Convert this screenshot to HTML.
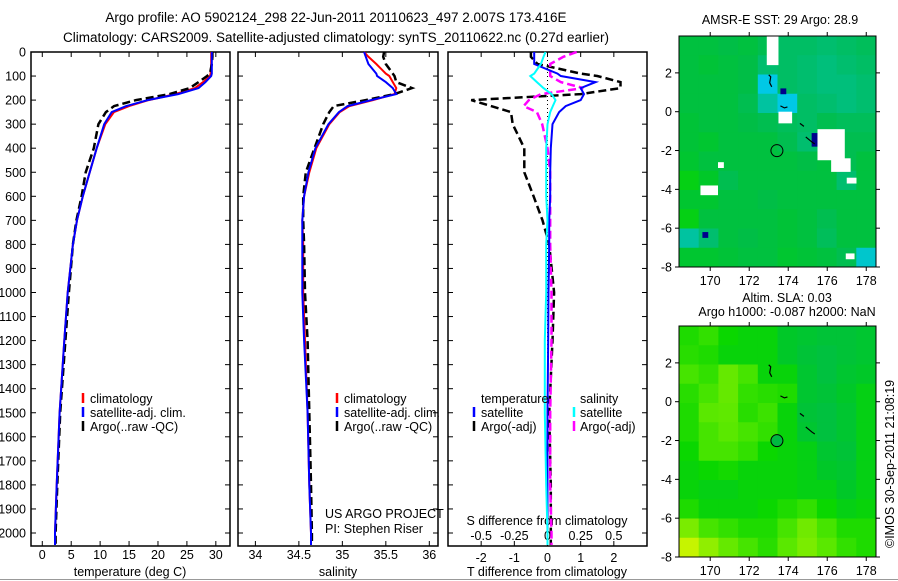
<!DOCTYPE html>
<html><head><meta charset="utf-8"><style>
body{margin:0;background:#fff;}
svg{display:block;font-family:"Liberation Sans",sans-serif;font-size:12.5px;}
</style></head><body>
<svg id="fig" width="898" height="581" viewBox="0 0 898 581" xmlns="http://www.w3.org/2000/svg">
<rect width="898" height="581" fill="#fff"/>
<text x="336" y="22" text-anchor="middle" font-size="13.5">Argo profile: AO 5902124_298 22-Jun-2011 20110623_497 2.007S 173.416E</text>
<text x="336" y="42" text-anchor="middle" font-size="13.5">Climatology: CARS2009. Satellite-adjusted climatology: synTS_20110622.nc (0.27d earlier)</text>
<g id="g"></g>
<line x1="0" y1="579.5" x2="898" y2="579.5" stroke="#999" stroke-width="1"/>
</svg>
<script>
// ---------- data ----------
const depthTicks=[0,100,200,300,400,500,600,700,800,900,1000,1100,1200,1300,1400,1500,1600,1700,1800,1900,2000];
const tempTicks=[0,5,10,15,20,25,30];
const salTicks=[34,34.5,35,35.5,36];
const tdiffTicks=[-2,-1,0,1,2];
const sdiffTicks=[-0.5,-0.25,0,0.25,0.5];
const depths=[0,20,50,90,100,125,150,175,200,225,250,300,400,500,600,700,800,1000,1200,1500,1800,2000,2050];
const tempClim=[29.2,29.2,29.2,29.1,29.0,27.8,26.4,23.0,18.4,15.0,12.4,10.9,9.4,8.2,7.0,6.0,5.3,4.4,3.8,3.0,2.5,2.2,2.2];
const tempSat=[29.3,29.3,29.3,29.3,29.2,28.2,27.0,23.5,18.2,14.5,12.0,10.7,9.4,8.2,7.0,6.0,5.3,4.4,3.8,3.0,2.5,2.2,2.2];
const tempArgo=[29.4,29.4,29.3,29.0,28.5,27.0,25.5,22.0,16.2,12.4,11.0,9.7,8.9,7.5,6.8,5.9,5.3,4.6,4.0,3.1,2.6,2.3,2.3];
const salClim=[35.25,35.3,35.39,35.5,35.54,35.58,35.62,35.6,35.35,35.08,34.97,34.85,34.7,34.62,34.56,34.54,34.55,34.55,34.57,34.6,34.62,34.64,34.64];
const salSat=[35.25,35.27,35.3,35.39,35.4,35.5,35.58,35.62,35.33,35.06,34.96,34.84,34.69,34.61,34.56,34.54,34.54,34.54,34.56,34.6,34.62,34.64,34.64];
const salArgo=[35.48,35.47,35.5,35.58,35.6,35.62,35.8,35.6,35.27,34.9,34.85,34.78,34.68,34.58,34.55,34.55,34.56,34.57,34.6,34.62,34.64,34.65,34.65];
const tDiffArgo=[-0.5,-0.5,-0.3,1.0,1.5,2.2,2.2,1.0,-2.3,-1.7,-1.1,-1.05,-0.7,-0.7,-0.42,-0.15,0.05,0.2,0.15,0.05,0.1,0.1,0.1];
const tDiffSat=[-0.4,-0.4,-0.4,0.3,0.4,1.45,1.0,1.1,1.0,0.55,0.35,0.15,0.1,0.08,0.08,0.05,0.05,0.03,0.02,0,0,0,0];
const sDiffArgo=[0.22,0.12,0.02,0.02,0.02,0.1,0.27,-0.05,-0.14,-0.18,-0.08,-0.04,0.0,0.02,0.02,0.02,0.02,0.03,0.03,0.02,0.02,0.03,0.03];
const sDiffSat=[-0.015,-0.03,-0.05,-0.1,-0.13,-0.08,-0.03,0.03,0.06,0.04,0.02,0.0,-0.01,-0.01,-0.01,0,-0.01,-0.01,-0.02,-0.02,-0.01,0,0];
const lonTicks=[170,172,174,176,178];
const latTicks=[2,0,-2,-4,-6,-8];
const sstGrid=[
[.47,.47,.46,.47,.45,.43,.43,.42,.43,.44],
[.47,.48,.47,.46,.42,.43,.42,.41,.42,.43],
[.47,.47,.47,.46,.3,.43,.42,.41,.41,.42],
[.47,.47,.47,.45,.38,.3,.43,.42,.41,.42],
[.48,.47,.47,.46,.45,.44,.43,.45,.44,.44],
[.48,.49,.47,.47,.47,.45,.42,.44,.45,.45],
[.49,.47,.47,.47,.47,.47,.46,.47,.45,.47],
[.52,.5,.45,.47,.47,.47,.47,.47,.42,.47],
[.49,.49,.47,.47,.46,.47,.47,.47,.47,.47],
[.52,.47,.47,.47,.47,.48,.47,.45,.47,.47],
[.38,.42,.47,.46,.47,.48,.47,.44,.47,.47],
[.49,.49,.48,.47,.47,.49,.48,.47,.45,.33]];
const sstWhite=[[172.9,173.5,3.9,2.4],[173.5,174.2,0,-0.6],[175.5,176.9,-0.9,-2.5],[176.2,177.2,-2.4,-3.1],[177.0,177.5,-3.4,-3.7],[169.5,170.4,-3.8,-4.3],[170.4,170.7,-2.6,-2.9],[176.95,177.4,-7.3,-7.6]];
const sstBlue=[[175.2,175.7,-1.1,-1.8],[173.6,173.9,1.2,0.9],[169.6,169.9,-6.2,-6.5]];
const slaGrid=[
[.56,.58,.54,.53,.53,.5,.49,.48,.48,.49],
[.57,.56,.53,.53,.53,.5,.48,.47,.48,.49],
[.6,.58,.64,.6,.53,.53,.49,.47,.49,.5],
[.57,.6,.64,.58,.57,.56,.49,.48,.5,.52],
[.56,.62,.63,.57,.59,.53,.48,.47,.49,.52],
[.56,.6,.62,.6,.58,.53,.49,.47,.49,.52],
[.54,.6,.6,.58,.54,.53,.52,.49,.48,.52],
[.53,.54,.55,.53,.53,.53,.52,.5,.49,.52],
[.53,.52,.52,.53,.53,.53,.52,.52,.5,.52],
[.56,.53,.53,.53,.54,.56,.58,.54,.52,.53],
[.68,.6,.58,.56,.56,.6,.66,.6,.56,.56],
[.82,.72,.64,.6,.57,.62,.68,.62,.58,.56]];

// ---------- helpers ----------
const NS="http://www.w3.org/2000/svg";
const G=document.getElementById('g');
function mk(tag,attrs,parent){const e=document.createElementNS(NS,tag);for(const k in attrs)e.setAttribute(k,attrs[k]);(parent||G).appendChild(e);return e;}
const PT=52,PB=546;
const yD=d=>PT+d*(533-PT)/2000;
const panels={
 temp:{x0:31,x1:230,v0:-1.95,v1:32.45},
 sal:{x0:238,x1:438,v0:33.8,v1:36.1},
 diff:{x0:448,x1:647,v0:-3,v1:3}
};
function sx(p,v){return p.x0+(v-p.v0)/(p.v1-p.v0)*(p.x1-p.x0);}
function line(p,vals,scale,color,w,dash,name){
  const pts=vals.map((v,i)=>sx(p,v*scale).toFixed(1)+','+yD(depths[i]).toFixed(1)).join(' ');
  const e=mk('polyline',{points:pts,fill:'none',stroke:color,'stroke-width':w});
  if(dash)e.setAttribute('stroke-dasharray',dash);
  
  
}
function frame(p,name){
  const r=mk('rect',{x:p.x0,y:PT,width:p.x1-p.x0,height:PB-PT,fill:'none',stroke:'#000','stroke-width':1.5});
  
  
  depthTicks.forEach(d=>{const y=yD(d);
    mk('line',{x1:p.x0,y1:y,x2:p.x0+5,y2:y,stroke:'#000'});
    mk('line',{x1:p.x1,y1:y,x2:p.x1-5,y2:y,stroke:'#000'});});
}
function xticks(p,ticks,scale,yLab,top,name){
  ticks.forEach(t=>{const x=sx(p,t*scale);
    mk('line',{x1:x,y1:PB,x2:x,y2:PB-5,stroke:'#000'});
    if(top)mk('line',{x1:x,y1:PT,x2:x,y2:PT+5,stroke:'#000'});
    const e=mk('text',{x:x,y:yLab,'text-anchor':'middle'});e.textContent=String(t);
    
    });
}
function txt(x,y,s,name,extra){const e=mk('text',Object.assign({x:x,y:y},extra||{}));e.textContent=s;
  
  return e;}

// ---------- panel 1: temperature ----------
const P1=panels.temp;
frame(P1,'temperature-panel');
depthTicks.forEach(d=>{txt(26,yD(d)+4.5,String(d),'depth-tick-label',{'text-anchor':'end'});});
xticks(P1,tempTicks,1,559,true,'temperature-tick-label');
txt(130,576,'temperature (deg C)','temperature-axis-title',{'text-anchor':'middle'});
line(P1,tempClim,1,'#f00',2,null,'temperature-climatology-line');
line(P1,tempArgo,1,'#000',2.5,'8,4','temperature-argo-line');
line(P1,tempSat,1,'#00f',2,null,'temperature-satellite-line');
[['#f00','climatology'],['#00f','satellite-adj. clim.'],['#000','Argo(..raw -QC)']].forEach((l,i)=>{
  mk('line',{x1:83,y1:393+i*14,x2:83,y2:403+i*14,stroke:l[0],'stroke-width':2.5});
  txt(90,403+i*14,l[1],'temperature-legend-entry');});

// ---------- panel 2: salinity ----------
const P2=panels.sal;
frame(P2,'salinity-panel');
xticks(P2,salTicks,1,559,true,'salinity-tick-label');
txt(338,576,'salinity','salinity-axis-title',{'text-anchor':'middle'});
line(P2,salClim,1,'#f00',2,null,'salinity-climatology-line');
line(P2,salArgo,1,'#000',2.5,'8,4','salinity-argo-line');
line(P2,salSat,1,'#00f',2,null,'salinity-satellite-line');
[['#f00','climatology'],['#00f','satellite-adj. clim.'],['#000','Argo(..raw -QC)']].forEach((l,i)=>{
  mk('line',{x1:337,y1:393+i*14,x2:337,y2:403+i*14,stroke:l[0],'stroke-width':2.5});
  txt(344,403+i*14,l[1],'salinity-legend-entry');});
txt(325,518,'US ARGO PROJECT','project-label');
txt(325,533,'PI: Stephen Riser','pi-label');

// ---------- panel 3: differences ----------
const P3=panels.diff;
frame(P3,'difference-panel');
mk('line',{x1:sx(P3,0),y1:PT,x2:sx(P3,0),y2:PB,stroke:'#000','stroke-dasharray':'1,3'});
xticks(P3,tdiffTicks,1,562,true,'t-difference-tick-label');
sdiffTicks.forEach(t=>{txt(sx(P3,t*4),540,String(t),'s-difference-tick-label',{'text-anchor':'middle'});});
txt(547,525,'S difference from climatology','s-difference-axis-title',{'text-anchor':'middle'});
txt(547,576,'T difference from climatology','t-difference-axis-title',{'text-anchor':'middle'});
line(P3,tDiffArgo,1,'#000',2.5,'8,4','t-diff-argo-line');
line(P3,sDiffArgo,4,'#f0f',2.5,'8,4','s-diff-argo-line');
line(P3,tDiffSat,1,'#00f',2,null,'t-diff-satellite-line');
line(P3,sDiffSat,4,'#0ff',2,null,'s-diff-satellite-line');
txt(481,403,'temperature','diff-legend-temperature-header');
txt(580,403,'salinity','diff-legend-salinity-header');
[['#00f','satellite',474,481],['#000','Argo(-adj)',474,481],['#0ff','satellite',574,580],['#f0f','Argo(-adj)',574,580]].forEach((l,i)=>{
  const r=i%2;
  mk('line',{x1:l[2],y1:407+r*14,x2:l[2],y2:417+r*14,stroke:l[0],'stroke-width':2.5});
  txt(l[3],417+r*14,l[1],'diff-legend-entry');});

// ---------- maps ----------
const cstops=[[0,[0,0,140]],[0.2,[0,100,255]],[0.3,[0,200,230]],[0.38,[0,195,160]],[0.42,[0,190,110]],[0.46,[0,190,70]],[0.5,[0,200,40]],[0.54,[10,215,0]],[0.62,[90,232,0]],[0.75,[160,240,0]],[0.85,[215,245,0]],[1,[255,255,0]]];
function cmap(v){for(let i=1;i<cstops.length;i++){if(v<=cstops[i][0]){const a=cstops[i-1],b=cstops[i];const f=(v-a[0])/(b[0]-a[0]);
  return 'rgb('+a[1].map((c,k)=>Math.round(c+(b[1][k]-c)*f)).join(',')+')';}}return 'rgb(255,255,0)';}
function drawMap(top,grid,whites,blues,name,circleFill){
  const M={x0:679,x1:876,y0:top,y1:top+231,lon0:168.4,lon1:178.5,lat0:3.9,lat1:-8};
  const mx=l=>M.x0+(l-M.lon0)/(M.lon1-M.lon0)*(M.x1-M.x0);
  const my=l=>M.y0+(l-M.lat0)/(M.lat1-M.lat0)*(M.y1-M.y0);
  const rows=grid.length,cols=grid[0].length;
  const cw=(M.x1-M.x0)/cols,ch=(M.y1-M.y0)/rows;
  grid.forEach((row,r)=>row.forEach((v,c)=>{
    const e=mk('rect',{x:(M.x0+c*cw).toFixed(2),y:(M.y0+r*ch).toFixed(2),width:(cw+0.5).toFixed(2),height:(ch+0.5).toFixed(2),fill:cmap(v)});
    
    }));
  blues.forEach(b=>{const e=mk('rect',{x:mx(b[0]),y:my(b[2]),width:mx(b[1])-mx(b[0]),height:my(b[3])-my(b[2]),fill:'#00008c'});
    
    });
  whites.forEach(b=>{const e=mk('rect',{x:mx(b[0]),y:my(b[2]),width:mx(b[1])-mx(b[0]),height:my(b[3])-my(b[2]),fill:'#fff'});
    
    });
  const fr=mk('rect',{x:M.x0,y:M.y0,width:M.x1-M.x0,height:M.y1-M.y0,fill:'none',stroke:'#000'});
  
  
  lonTicks.forEach(l=>{const x=mx(l);
    mk('line',{x1:x,y1:M.y1,x2:x,y2:M.y1+4,stroke:'#000'});
    mk('line',{x1:x,y1:M.y0,x2:x,y2:M.y0-4,stroke:'#000'});
    txt(x,M.y1+18,String(l),name+'-lon-label',{'text-anchor':'middle'});});
  latTicks.forEach(l=>{const y=my(l);
    mk('line',{x1:M.x0,y1:y,x2:M.x0-4,y2:y,stroke:'#000'});
    mk('line',{x1:M.x1,y1:y,x2:M.x1+4,y2:y,stroke:'#000'});
    txt(M.x0-7,y+4.5,String(l),name+'-lat-label',{'text-anchor':'end'});});
  const isl=mk('path',{d:`M${mx(173)} ${my(1.9)} l2 2 l-1 6 l2 4 M${mx(173.6)} ${my(0.3)} l4 2 l3 -1 M${mx(174.6)} ${my(-0.6)} l4 3 M${mx(174.9)} ${my(-1.3)} l6 5 l3 2`,fill:'none',stroke:'#000','stroke-width':1.2});
  
  
  const c=mk('circle',{cx:mx(173.42),cy:my(-2.007),r:6,fill:circleFill,stroke:'#000','stroke-width':1});
  
  
}
txt(780,24,'AMSR-E SST: 29 Argo: 28.9','sst-map-title',{'text-anchor':'middle'});
drawMap(36,sstGrid,sstWhite,sstBlue,'sst-map','none');
txt(787,302,'Altim. SLA: 0.03','sla-map-title',{'text-anchor':'middle'});
txt(787,316,'Argo h1000: -0.087 h2000: NaN','sla-map-subtitle',{'text-anchor':'middle'});
drawMap(326,slaGrid,[],[],'sla-map','rgb(0,185,65)');
txt(0,0,'\u00A9IMOS 30-Sep-2011 21:08:19','timestamp-label',{transform:'translate(894,548) rotate(-90)'});
</script>
</body></html>
